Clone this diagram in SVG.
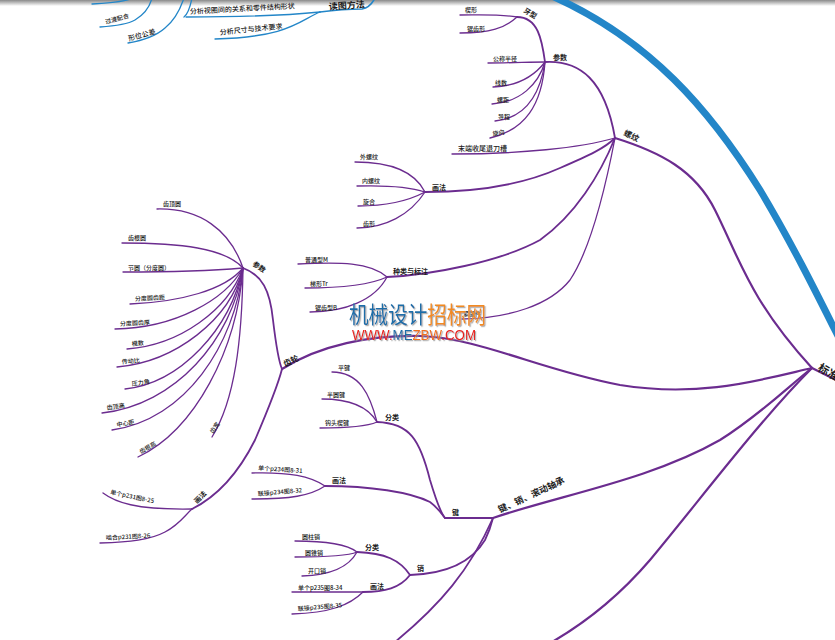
<svg xmlns="http://www.w3.org/2000/svg" width="835" height="640" viewBox="0 0 835 640">
<defs>
<linearGradient id="shade" x1="0" y1="0" x2="0" y2="1">
<stop offset="0" stop-color="#8a8a8a"/><stop offset="1" stop-color="#ffffff"/>
</linearGradient>
<filter id="sh" x="-10%" y="-30%" width="120%" height="160%"><feDropShadow dx="1.2" dy="1.2" stdDeviation="0.6" flood-color="#999" flood-opacity="0.8"/></filter>
</defs>
<style>
.p{fill:none;stroke:#6b2c8f;stroke-linecap:round}
.w1{stroke-width:2.2}.w2{stroke-width:1.8}.w3{stroke-width:1.3}
.b{fill:none;stroke:#2386c8;stroke-linecap:round}
text{font-family:"Noto Sans CJK SC","Noto Sans",sans-serif;fill:#1a1a1a;font-weight:500}
.s6{font-size:6px}.s7{font-size:7px;font-weight:bold}.s8{font-size:8px;font-weight:bold}.s9{font-size:9px;font-weight:bold}.s11{font-size:11px;font-weight:bold}
</style>
<rect width="835" height="640" fill="#fff"/>
<rect width="835" height="6" fill="url(#shade)"/>
<g id="connectors">
<path class="b" stroke-width="7" d="M552,-4 C650,40 710,110 760,190 C790,240 815,290 840,340"/>
<path class="b" stroke-width="1.6" d="M320,12 C335,10 352,9 362,9 C368,8 372,4 375,-2"/>
<path class="b" stroke-width="1.3" d="M320,12 C300,14 260,17 186,17"/>
<path class="b" stroke-width="1.3" d="M320,12 C300,20 290,37 215,39"/>
<path class="b" stroke-width="1.3" d="M192,-2 C190,8 188,14 184,17"/>
<path class="b" stroke-width="1.3" d="M100,27 C115,26 128,24 135,20 C145,14 150,6 152,-2"/>
<path class="b" stroke-width="1.3" d="M128,43 C140,41 155,37 165,28 C175,20 180,10 184,-2"/>
<path class="b" stroke-width="1.3" d="M92,4 C110,3 125,2 133,-2"/>

<path class="p w1" d="M615,138 C660,152 695,170 715,210 C740,260 750,300 812,368"/>
<path class="p w1" d="M282,369 C320,345 370,335 420,336 C480,338 540,370 620,385 C700,398 760,380 812,368"/>
<path class="p w1" d="M493,518 C560,495 650,480 720,440 C760,415 790,385 812,368"/>
<path class="p w1" d="M812,368 C760,420 700,500 650,560 C620,595 590,620 552,642"/>
<path class="p w1" d="M812,368 C820,372 828,376 838,381"/>

<path class="p w2" d="M545,62 C580,60 605,80 615,138"/>
<path class="p w2" d="M517,17 C538,17 542,40 545,62"/>
<path class="p w3" d="M452,154 C520,154 580,148 615,138"/>
<path class="p w2" d="M425,192 C470,192 520,186 560,168 C590,155 605,148 615,138"/>
<path class="p w2" d="M387,277 C430,275 500,262 540,240 C575,215 600,175 615,138"/>
<path class="p w3" d="M462,319 C510,318 550,305 570,280 C590,250 605,190 615,138"/>

<path class="p w3" d="M460,15 C480,15 500,14 517,17"/>
<path class="p w3" d="M460,33 C490,33 505,28 517,17"/>
<path class="p w3" d="M488,63 C510,63 530,62 545,62"/>
<path class="p w3" d="M493,87 C520,86 535,75 545,62"/>
<path class="p w3" d="M492,104 C520,102 538,85 545,62"/>
<path class="p w3" d="M495,121 C525,118 540,95 545,62"/>
<path class="p w3" d="M490,138 C525,130 542,105 545,62"/>

<path class="p w3" d="M355,162 C390,162 415,172 425,192"/>
<path class="p w3" d="M357,186 C390,185 410,187 425,192"/>
<path class="p w3" d="M358,206 C390,206 410,200 425,192"/>
<path class="p w3" d="M357,228 C385,228 410,215 425,192"/>

<path class="p w3" d="M298,264 C340,262 370,262 387,277"/>
<path class="p w3" d="M305,288 C340,288 370,285 387,277"/>
<path class="p w3" d="M310,312 C345,312 375,300 387,277"/>

<path class="p w2" d="M243,268 C262,275 270,290 273,320 C276,345 278,360 282,369"/>
<path class="p w2" d="M192,509 C220,495 240,470 255,440 C270,405 278,385 282,369"/>

<path class="p w3" d="M157,209 C200,208 230,230 243,268"/>
<path class="p w3" d="M122,243 C180,243 225,248 243,268"/>
<path class="p w3" d="M123,272 C170,272 220,270 243,268"/>
<path class="p w3" d="M130,304 C180,302 225,290 243,268"/>
<path class="p w3" d="M115,329 C175,328 225,300 243,268"/>
<path class="p w3" d="M127,349 C180,345 228,310 243,268"/>
<path class="p w3" d="M117,367 C175,362 230,320 243,268"/>
<path class="p w3" d="M125,389 C180,383 230,330 243,268"/>
<path class="p w3" d="M102,413 C175,405 232,340 243,268"/>
<path class="p w3" d="M112,430 C185,420 235,345 243,268"/>
<path class="p w3" d="M138,457 C195,430 237,350 243,268"/>
<path class="p w3" d="M212,437 C235,400 242,340 243,268"/>

<path class="p w3" d="M103,493 C115,502 135,510 192,509"/>
<path class="p w3" d="M100,543 C130,542 150,540 165,532 C180,524 185,515 192,509"/>

<path class="p w2" d="M445,518 C470,518 480,518 493,518"/>
<path class="p w2" d="M410,575 C440,574 470,565 485,540 C490,530 492,522 493,518"/>
<path class="p w2" d="M493,518 C470,570 440,605 395,642"/>

<path class="p w2" d="M377,422 C410,423 420,440 430,480 C436,500 440,512 445,518"/>
<path class="p w2" d="M325,486 C370,486 410,492 430,502 C438,508 442,514 445,518"/>
<path class="p w3" d="M332,372 C360,372 370,395 377,422"/>
<path class="p w3" d="M322,399 C355,399 370,410 377,422"/>
<path class="p w3" d="M320,428 C350,428 368,426 377,422"/>
<path class="p w3" d="M252,473 C290,472 310,476 325,486"/>
<path class="p w3" d="M252,499 C290,499 310,496 325,486"/>

<path class="p w2" d="M357,552 C385,553 400,560 410,575"/>
<path class="p w2" d="M363,592 C385,592 400,588 410,575"/>
<path class="p w3" d="M295,541 C330,541 348,545 357,552"/>
<path class="p w3" d="M295,557 C330,557 348,556 357,552"/>
<path class="p w3" d="M302,576 C335,575 350,565 357,552"/>
<path class="p w3" d="M292,592 C320,592 340,592 363,592"/>
<path class="p w3" d="M292,614 C330,613 350,605 363,592"/>
</g>

<g id="n-dutu"><text class="s9" x="329" y="10" transform="rotate(-4 329 10)">读图方法</text></g>
<g id="n-fenxi1"><text class="s7" x="190" y="14" transform="rotate(-3 190 14)" style="font-weight:500">分析视图间的关系和零件结构形状</text></g>
<g id="n-fenxi2"><text class="s7" x="220" y="35" transform="rotate(-6 220 35)" style="font-weight:500">分析尺寸与技术要求</text></g>
<g id="n-guodu"><text class="s6" x="106" y="24" transform="rotate(-15 106 24)">过渡配合</text></g>
<g id="n-xingwei"><text class="s7" x="129" y="41" transform="rotate(-15 129 41)" style="font-weight:500">形位公差</text></g>

<g id="n-biaozhun"><text class="s11" x="817" y="370" transform="rotate(30 817 370)">标准件</text></g>
<g id="n-luowen"><text class="s8" x="623" y="135" transform="rotate(25 623 135)">螺纹</text></g>
<g id="n-yaxing"><text class="s7" x="523" y="12" transform="rotate(30 523 12)">牙型</text></g>
<g id="n-xiexing"><text class="s6" x="465" y="12">楔形</text></g>
<g id="n-juchixing"><text class="s6" x="467" y="31">锯齿形</text></g>
<g id="n-canshu1"><text class="s7" x="553" y="60">参数</text></g>
<g id="n-gongcheng"><text class="s6" x="493" y="61">公称半径</text></g>
<g id="n-xianshu"><text class="s6" x="495" y="85">线数</text></g>
<g id="n-luoju"><text class="s6" x="497" y="102">螺距</text></g>
<g id="n-daocheng"><text class="s6" x="498" y="119">导程</text></g>
<g id="n-xuanxiang"><text class="s6" x="493" y="136" transform="rotate(-10 493 136)">旋向</text></g>
<g id="n-moduan"><text class="s7" x="458" y="151" style="font-weight:500">末端收尾退刀槽</text></g>
<g id="n-huafa1"><text class="s7" x="432" y="190">画法</text></g>
<g id="n-wailuowen"><text class="s6" x="360" y="159">外螺纹</text></g>
<g id="n-neiluowen"><text class="s6" x="362" y="183">内螺纹</text></g>
<g id="n-xuanhe"><text class="s6" x="363" y="204">旋合</text></g>
<g id="n-chixing"><text class="s6" x="363" y="226">齿形</text></g>
<g id="n-zhonglei"><text class="s7" x="393" y="274">种类与标注</text></g>
<g id="n-putong"><text class="s6" x="305" y="262">普通型M</text></g>
<g id="n-tixing"><text class="s6" x="310" y="286">梯形Tr</text></g>
<g id="n-juchixingB"><text class="s6" x="315" y="310">锯齿型B</text></g>
<g id="n-jingujian"><text class="s6" x="463" y="316">紧固件</text></g>

<g id="n-chilun"><text class="s8" x="285" y="367" transform="rotate(-25 285 367)">齿轮</text></g>
<g id="n-canshu2"><text class="s7" x="252" y="265" transform="rotate(35 252 265)">参数</text></g>
<g id="n-chidingyuan"><text class="s6" x="163" y="206">齿顶圆</text></g>
<g id="n-chigenyuan"><text class="s6" x="128" y="240">齿根圆</text></g>
<g id="n-jieyuan"><text class="s6" x="128" y="270">节圆（分度圆）</text></g>
<g id="n-chiju"><text class="s6" x="135" y="301" transform="rotate(-3 135 301)">分度圆齿距</text></g>
<g id="n-chihou"><text class="s6" x="120" y="326" transform="rotate(-3 120 326)">分度圆齿厚</text></g>
<g id="n-moshu"><text class="s6" x="132" y="346" transform="rotate(-5 132 346)">模数</text></g>
<g id="n-chuandong"><text class="s6" x="122" y="364" transform="rotate(-5 122 364)">传动比</text></g>
<g id="n-yali"><text class="s6" x="132" y="386" transform="rotate(-8 132 386)">压力角</text></g>
<g id="n-chidinggao"><text class="s6" x="107" y="410" transform="rotate(-8 107 410)">齿顶高</text></g>
<g id="n-zhongxin"><text class="s6" x="117" y="427" transform="rotate(-10 117 427)">中心距</text></g>
<g id="n-chigengao"><text class="s6" x="141" y="454" transform="rotate(-30 141 454)">齿根高</text></g>
<g id="n-chikuan"><text class="s6" x="213" y="434" transform="rotate(-55 213 434)">齿宽</text></g>
<g id="n-huafa2"><text class="s7" x="197" y="504" transform="rotate(-45 197 504)">画法</text></g>
<g id="n-dange231"><text class="s6" x="110" y="494" transform="rotate(12 110 494)">单个p231图8-25</text></g>
<g id="n-niehe231"><text class="s6" x="106" y="540" transform="rotate(-3 106 540)">啮合p231图8-26</text></g>

<g id="n-jianxiao"><text class="s9" x="500" y="513" transform="rotate(-25 500 513)">键、销、滚动轴承</text></g>
<g id="n-jian"><text class="s7" x="452" y="515">键</text></g>
<g id="n-fenlei1"><text class="s7" x="385" y="420">分类</text></g>
<g id="n-pingjian"><text class="s6" x="338" y="370">平键</text></g>
<g id="n-banyuan"><text class="s6" x="327" y="397">半圆键</text></g>
<g id="n-goutou"><text class="s6" x="325" y="425">钩头楔键</text></g>
<g id="n-huafa3"><text class="s7" x="332" y="483">画法</text></g>
<g id="n-dange234"><text class="s6" x="258" y="470" transform="rotate(4 258 470)">单个p234图8-31</text></g>
<g id="n-lianjie234"><text class="s6" x="258" y="496" transform="rotate(-5 258 496)">联接p234图8-32</text></g>
<g id="n-xiao"><text class="s7" x="417" y="571">销</text></g>
<g id="n-fenlei2"><text class="s7" x="365" y="550">分类</text></g>
<g id="n-yuanzhu"><text class="s6" x="302" y="539">圆柱销</text></g>
<g id="n-yuanzhui"><text class="s6" x="305" y="555">圆锥销</text></g>
<g id="n-kaikou"><text class="s6" x="308" y="573">开口销</text></g>
<g id="n-huafa4"><text class="s7" x="370" y="589">画法</text></g>
<g id="n-dange235"><text class="s6" x="298" y="590">单个p235图8-34</text></g>
<g id="n-lianjie235"><text class="s6" x="298" y="611" transform="rotate(-5 298 611)">联接p235图8-35</text></g>

<g id="watermark" filter="url(#sh)">
<text x="349" y="323" font-size="23" style="font-weight:400" textLength="137" lengthAdjust="spacingAndGlyphs"><tspan fill="#1f6ea8">机械设计</tspan><tspan fill="#f08a24">招标网</tspan></text>
<text x="352" y="340" font-size="14" font-weight="bold" style="font-family:'Liberation Sans',sans-serif" textLength="124" lengthAdjust="spacingAndGlyphs"><tspan fill="#e8231f">WWW.</tspan><tspan fill="#1f6ea8">ME</tspan><tspan fill="#f0701e">ZBW</tspan><tspan fill="#e8231f">.COM</tspan></text>
</g>
</svg>
